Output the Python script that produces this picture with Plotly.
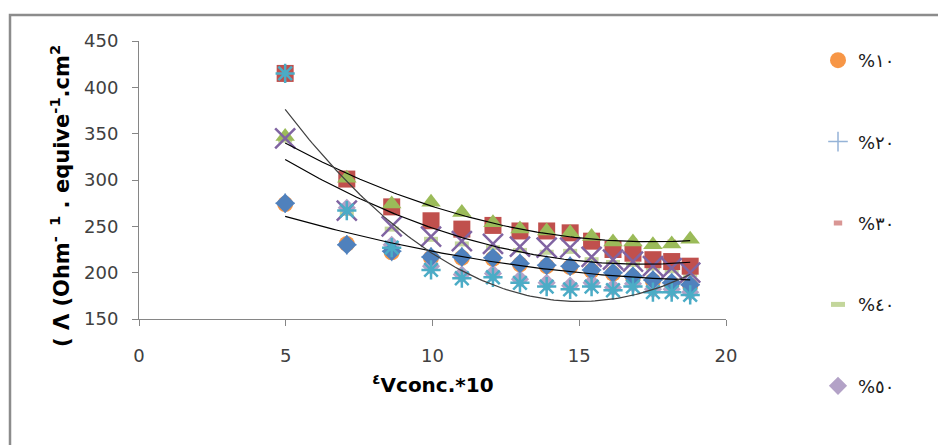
import numpy as np
import plotly.graph_objects as go

# ---------------- data ----------------
x_vals = [4.98, 7.08, 8.61, 9.95, 11.0, 12.06, 12.98, 13.89, 14.69, 15.42, 16.15, 16.83, 17.51, 18.15, 18.78]

# legend series (drawn underneath)
p10 = [274, 231, 222, 216, 216, 215, 209, 207, 206, 202, 199, 195, 191, 188, 186]
p20 = [275, 230, 223, 217, 217, 216, 210, 208, 207, 203, 200, 196, 192, 189, 187]
p30 = [348, 301, 275, 275, 266, 255, 248, 246, 244, 240, 234, 234, 231, 233, 236]
p40 = [343, 264, 247, 236, 231, 227, 224, 222, 223, 214, 211, 209, 205, 202, 198]
p50 = [415, 270, 230, 207, 198, 199, 193, 189, 186, 189, 184, 188, 182, 182, 179]

# series drawn on top (not in legend)
s_diamond = [275, 230, 223, 217, 217, 216, 210, 208, 207, 203, 200, 196, 192, 189, 187]
s_square = [415, 301, 271, 256, 247, 251, 245, 245, 243, 234, 225, 221, 214, 212, 207]
s_triangle = [347, 302, 274, 276, 265, 254, 247, 245, 243, 239, 233, 233, 230, 231, 236]
s_x = [345, 267, 250, 239, 234, 231, 228, 227, 227, 217, 214, 212, 207, 205, 200]
s_star = [415, 267, 227, 203, 194, 195, 189, 185, 182, 185, 181, 185, 179, 179, 176]

legend_names = ["%١٠", "%٢٠", "%٣٠", "%٤٠", "%٥٠"]
x_ticks = [0, 5, 10, 15, 20]
y_ticks = [150, 200, 250, 300, 350, 400, 450]

# ---------------- geometry helpers ----------------
W, H = 938, 445
ML, MR, MT, MB = 139, 212, 41, 126
PW, PH = W - ML - MR, H - MT - MB


def px2paper_x(px):
    return (px - ML) / PW


def px2paper_y(py):
    return (H - MB - py) / PH


fig = go.Figure()

legend_series = [
    (p10, dict(symbol="circle", size=16, color="#F79646")),
    (p20, dict(symbol="cross-thin-open", size=14, color="#95B3D7", line=dict(color="#95B3D7", width=1.5))),
    (p30, dict(symbol="line-ew-open", size=6, color="#D99694", line=dict(color="#D99694", width=5))),
    (p40, dict(symbol="line-ew-open", size=10, color="#C3D69B", line=dict(color="#C3D69B", width=5))),
    (p50, dict(symbol="diamond", size=14, color="#B3A2C7")),
]
for i, (vals, mk) in enumerate(legend_series):
    fig.add_trace(go.Scatter(
        x=x_vals, y=vals, mode="markers", name=legend_names[i],
        marker=mk, legendgroup=f"g{i}", showlegend=True,
    ))

top_series = [
    (s_diamond, dict(symbol="diamond", size=15, color="#4F81BD")),
    (s_square, dict(symbol="square", size=17, color="#C0504D")),
    (s_triangle, dict(symbol="triangle-up", size=17, color="#9BBB59")),
    (s_x, dict(symbol="x-thin-open", size=20, color="#8064A2", line=dict(color="#8064A2", width=2.5))),
    (s_star, dict(symbol="asterisk-open", size=16, color="#4BACC6", line=dict(color="#4BACC6", width=2.5))),
]
for vals, mk in top_series:
    fig.add_trace(go.Scatter(x=x_vals, y=vals, mode="markers", marker=mk, showlegend=False, hoverinfo="skip"))

# polynomial (order 2) trend lines
xs = np.linspace(min(x_vals), max(x_vals), 120)
for vals, col in [(s_triangle, "#000000"), (s_x, "#000000"), (s_diamond, "#000000"), (s_star, "#404040")]:
    coef = np.polyfit(x_vals, vals, 2)
    fig.add_trace(go.Scatter(x=xs, y=np.polyval(coef, xs), mode="lines",
                             line=dict(color=col, width=1.2), showlegend=False, hoverinfo="skip"))

axis_style = dict(
    showline=True, linecolor="#868686", linewidth=1, ticks="outside", ticklen=6,
    tickcolor="#868686", showgrid=False, zeroline=False,
    tickfont=dict(family="DejaVu Sans", size=18, color="#404040"),
)
fig.update_xaxes(range=[0, 20], tickvals=x_ticks, ticklabelstandoff=14, **axis_style)
fig.update_yaxes(range=[150, 450], tickvals=y_ticks, ticklabelstandoff=10, **axis_style)

fig.update_layout(
    width=W, height=H,
    margin=dict(l=ML, r=MR, t=MT, b=MB),
    paper_bgcolor="white", plot_bgcolor="white",
    legend=dict(
        x=px2paper_x(818), y=px2paper_y(42), xanchor="left", yanchor="top",
        font=dict(family="DejaVu Sans", size=18, color="#202020"),
        tracegroupgap=55, bgcolor="rgba(0,0,0,0)", maxheight=420,
    ),
    shapes=[dict(type="rect", xref="paper", yref="paper",
                 x0=px2paper_x(10), x1=px2paper_x(950), y0=px2paper_y(470), y1=px2paper_y(15),
                 line=dict(color="#8C8C8C", width=2.5), layer="below")],
    annotations=[
        dict(text="( Λ (Ohm<sup>-  1</sup> . equive<sup>-1</sup>.cm<sup>2</sup>",
             xref="paper", yref="paper", x=px2paper_x(60), y=px2paper_y(196),
             xanchor="center", yanchor="middle", textangle=-90, showarrow=False,
             font=dict(family="DejaVu Sans", size=21, color="#000000", weight="bold")),
        dict(text="<sup>٤</sup>Vconc.*10",
             xref="paper", yref="paper", x=px2paper_x(433), y=px2paper_y(384),
             xanchor="center", yanchor="middle", showarrow=False,
             font=dict(family="DejaVu Sans", size=20, color="#000000", weight="bold")),
    ],
)

fig.write_html("out.html")
